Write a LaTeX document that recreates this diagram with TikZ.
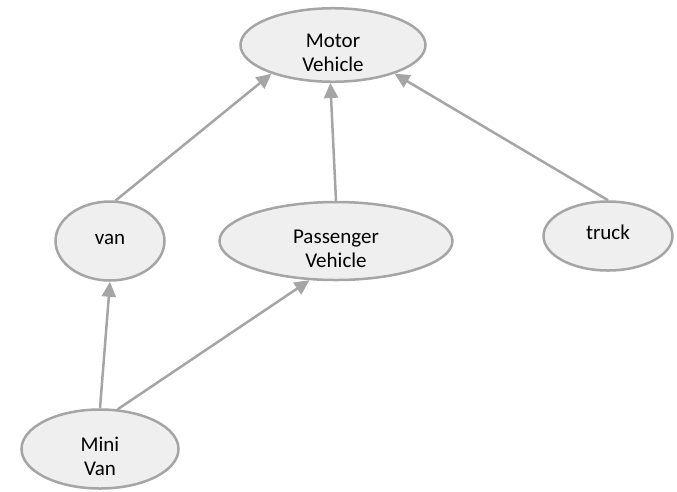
\documentclass[tikz,border=0pt]{standalone}
\usepackage{fontspec}
\setmainfont{Carlito}
\usepackage{tikz}
\usetikzlibrary{arrows.meta,shapes,positioning}

\definecolor{linegray}{HTML}{A5A5A5}
\definecolor{nodefill}{HTML}{EFEFEF}

\begin{document}
\begin{tikzpicture}[x=1pt,y=-1pt,
    vehicle/.style={ellipse,draw=linegray,fill=nodefill,line width=2.5pt,inner sep=0pt,
        align=center,font=\fontsize{21}{24}\selectfont,text height=14pt,text depth=8pt},
    twoline/.style={text height=52pt,text depth=-2pt},
    link/.style={draw=linegray,line width=2.5pt,-{Triangle[length=15pt,width=14pt]}}]
    \useasboundingbox (0,0) rectangle (677,491);
    \node[vehicle,twoline,minimum width=185pt,minimum height=71pt] (motor) at (333,45) {Motor\\Vehicle};
    \node[vehicle,minimum width=109pt,minimum height=79pt] (van) at (110,241) {van};
    \node[vehicle,twoline,minimum width=233pt,minimum height=78pt] (passenger) at (336,241) {Passenger\\Vehicle};
    \node[vehicle,minimum width=129pt,minimum height=69pt] (truck) at (608,236) {truck};
    \node[vehicle,twoline,minimum width=157pt,minimum height=79pt] (minivan) at (100,449) {Mini\\Van};
    \draw[link] (van.82) -- (motor.205);
    \draw[link] (passenger.north) -- (motor.266);
    \draw[link] (truck.north) -- (motor.335);
    \draw[link] (minivan.north) -- (van.south);
    \draw[link] (minivan.66) -- (passenger.236);
\end{tikzpicture}
\end{document}
